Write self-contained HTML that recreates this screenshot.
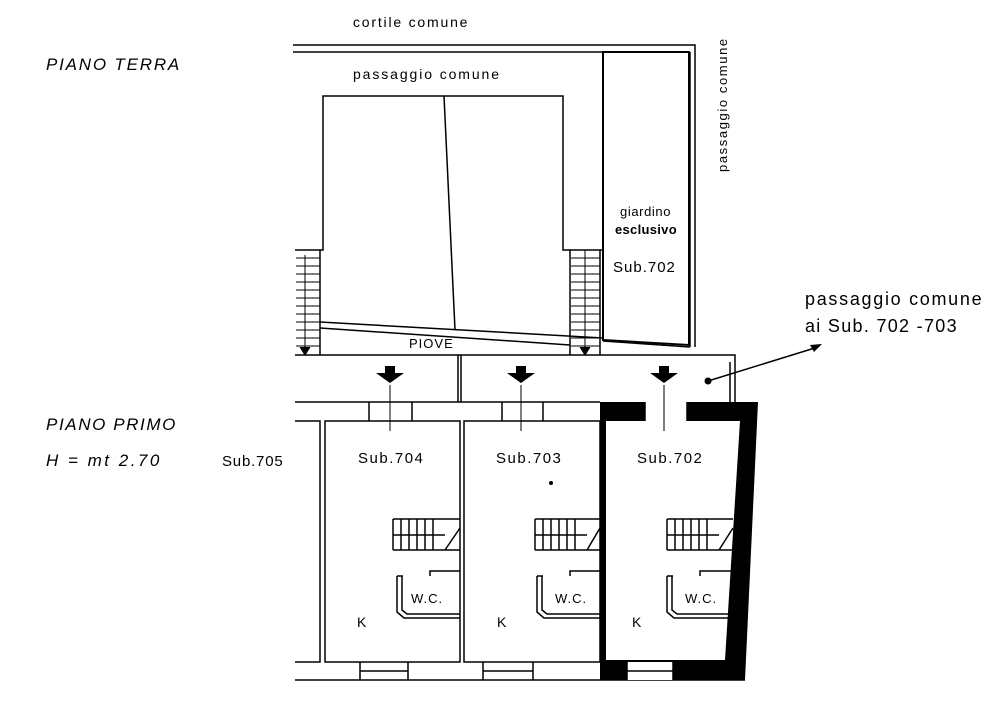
<!DOCTYPE html>
<html><head><style>
html,body{margin:0;padding:0;background:#fff;}
svg{display:block;}
text{font-family:"Liberation Sans",sans-serif;fill:#000;}
.it{font-style:italic;}
</style></head><body>
<svg width="1000" height="704" viewBox="0 0 1000 704" xmlns="http://www.w3.org/2000/svg">
<g fill="none" stroke="#000" stroke-width="1.5">
<path d="M293 45 H695 V347"/>
<path d="M293 52 H603"/>
<path d="M603 52 H689 V345 L603 340 Z" stroke-width="2"/>
<path d="M690 52 V347"/>
<path d="M320 355 V250 H323 V96 H563 V250 H570 V355"/>
<path d="M444 96 L455 330"/>
<path d="M295 250 H320 M295 355 H735 V402"/>
<path d="M600 250 H603 M570 250 H600 V355"/>
<path d="M320 322 L603 338 M320 328 L570 345 M603 341 L690 347"/>
<path d="M458 355 V402 M461 355 V402"/>
<path d="M730 362 V402"/>
</g>
<g stroke="#000" stroke-width="1">
<path d="M296 258H320M296 266H320M296 274H320M296 282H320M296 290H320M296 298H320M296 306H320M296 314H320M296 322H320M296 330H320M296 338H320M296 346H320"/>
<path d="M305 255V355M300 347L305 355L310 347"/>
<path d="M571 258H600M571 266H600M571 274H600M571 282H600M571 290H600M571 298H600M571 306H600M571 314H600M571 322H600M571 330H600M571 338H600M571 346H600"/>
<path d="M585 250V355M580 347L585 355L590 347"/>
</g>
<g fill="#000">
<path d="M376 373H404L390 383Z M385 366H395V374H385Z"/>
<path d="M507 373H535L521 383Z M516 366H526V374H516Z"/>
<path d="M650 373H678L664 383Z M659 366H669V374H659Z"/>
<circle cx="708" cy="381" r="3.5"/>
<path d="M822 344 L810 345 L814 352 Z"/>
</g>
<path d="M708 381 L818 347" stroke="#000" stroke-width="1.5"/>
<g fill="none" stroke="#000" stroke-width="1.5">
<path d="M295 402 H600 M295 421 H320 V662 H295 M295 680 H745"/>
<path d="M325 421 H460 V662 H325 Z"/>
<path d="M464 421 H600 V662 H464 Z"/>
<path d="M369 402V421 M412 402V421 M502 402V421 M543 402V421"/>
<path d="M360 662V680 M408 662V680 M360 671H408"/>
<path d="M483 662V680 M533 662V680 M483 671H533"/>
</g>
<path d="M600 402 H758 L745 680 H600 Z M606 421 L606 660 L725 660 L740 421 Z" fill="#000" fill-rule="evenodd"/>
<rect x="645" y="402" width="42" height="19" fill="#fff"/>
<rect x="627" y="662" width="46" height="18" fill="#fff"/>
<path d="M645 402V421 M687 402V421 M627 662V680 M673 662V680 M627 671H673" stroke="#000" stroke-width="1.5"/>
<g stroke="#000" stroke-width="1"><path d="M390 385V431 M521 385V431 M664 385V431"/></g>
<g fill="none" stroke="#000" stroke-width="1.5">
<path d="M393 519H460M393 550H460M393 519V550M401 519V550M409 519V550M417 519V550M425 519V550M433 519V550M393 535H445 M445 550 L460 528"/>
<path d="M397 576V612L404 618H460M402 576V610L407 614H460M397 576H403M430 576V571H460"/>
<path d="M535 519H600M535 550H600M535 519V550M543 519V550M551 519V550M559 519V550M567 519V550M575 519V550M535 535H587 M587 550 L600 528"/>
<path d="M537 576V612L544 618H600M542 576V610L547 614H600M537 576H543M570 576V571H600"/>
<path d="M667 519H733M667 550H733M667 519V550M675 519V550M683 519V550M691 519V550M699 519V550M707 519V550M667 535H719 M719 550 L733 528"/>
<path d="M667 576V612L674 618H730M672 576V610L677 614H730M667 576H673M700 576V571H731"/>
</g>
<text x="353" y="27" font-size="14" letter-spacing="1.8">cortile comune</text>
<text x="353" y="79" font-size="14" letter-spacing="1.9">passaggio comune</text>
<text x="620" y="216" font-size="13" letter-spacing="0.6">giardino</text>
<text x="615" y="234" font-size="13" font-weight="bold" letter-spacing="0.3">esclusivo</text>
<text x="613" y="272" font-size="15" letter-spacing="1">Sub.702</text>
<text transform="translate(727,172) rotate(-90)" font-size="13" letter-spacing="1.6">passaggio comune</text>
<text x="409" y="348" font-size="13" letter-spacing="1">PIOVE</text>
<text x="46" y="70" font-size="17" class="it" letter-spacing="1.8">PIANO TERRA</text>
<text x="46" y="430" font-size="17" class="it" letter-spacing="1.6">PIANO PRIMO</text>
<text x="46" y="466" font-size="17" class="it" fill="#222" letter-spacing="2.5">H = mt 2.70</text>
<text x="222" y="466" font-size="15" letter-spacing="0.8">Sub.705</text>
<text x="358" y="463" font-size="15" letter-spacing="1.5">Sub.704</text>
<text x="496" y="463" font-size="15" letter-spacing="1.5">Sub.703</text>
<text x="637" y="463" font-size="15" letter-spacing="1.5">Sub.702</text>
<text x="411" y="603" font-size="13" letter-spacing="1">W.C.</text>
<text x="555" y="603" font-size="13" letter-spacing="1">W.C.</text>
<text x="685" y="603" font-size="13" letter-spacing="1">W.C.</text>
<text x="357" y="627" font-size="14">K</text>
<text x="497" y="627" font-size="14">K</text>
<text x="632" y="627" font-size="14">K</text>
<text x="805" y="305" font-size="18" letter-spacing="1.7">passaggio comune</text>
<text x="805" y="332" font-size="18" letter-spacing="1.3">ai Sub. 702 -703</text>
<circle cx="551" cy="483" r="2" fill="#000"/>
</svg>
</body></html>
